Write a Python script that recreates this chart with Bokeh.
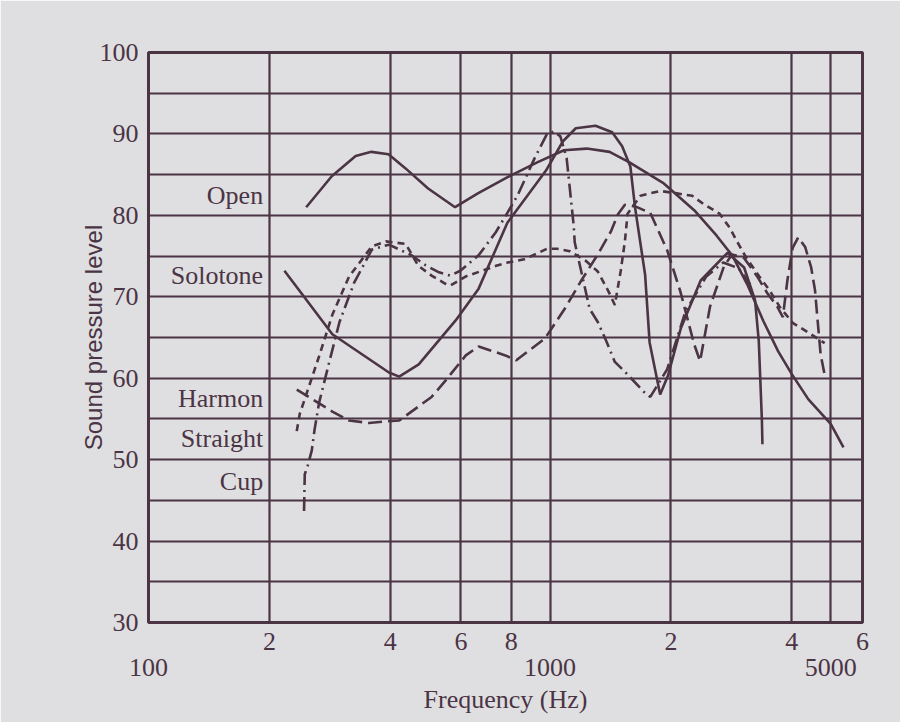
from bokeh.plotting import figure
from bokeh.models import FixedTicker, LogAxis
from bokeh.embed import file_html
from bokeh.resources import INLINE
from bokeh.core.properties import value

# Frequency response of the trumpet with different mutes (dB SPL vs Hz)
open_f = [247, 286, 328, 359, 396, 436, 497, 580, 661, 784, 929, 1083, 1234, 1407, 1577,
          1911, 2300, 2600, 2850, 3100, 3400, 3700, 4000, 4400, 5000, 5380]
open_db = [81, 84.8, 87.3, 87.8, 87.5, 85.8, 83.3, 81, 82.7, 84.7, 86.5, 88, 88.2, 87.8, 86.5,
           84, 80.5, 77.5, 75, 71.5, 67, 63.3, 60.5, 57.4, 54.4, 51.5]

solotone_f = [218, 287, 397, 421, 471, 582, 664, 783, 977, 1077, 1159, 1298, 1428, 1512, 1585,
              1629, 1725, 1770, 1880, 1966, 2116, 2372, 2766, 3043, 3240, 3310, 3370, 3380]
solotone_db = [73.2, 65.4, 60.7, 60.2, 61.7, 67.1, 71, 79.1, 85.5, 89.1, 90.7, 91, 90.2, 88.5, 86,
               80.9, 72.7, 64.4, 58, 60.3, 66.1, 72, 75.4, 73.6, 69.6, 64.6, 54.8, 51.9]

harmon_f = [234, 287, 316, 354, 391, 421, 507, 549, 617, 664, 774, 824, 972, 1090, 1193, 1315,
            1417, 1475, 1536, 1630, 1777, 1958, 2110, 2284, 2364, 2503, 2709, 2838, 3038, 3280,
            3470, 3680, 3800, 3900, 4020, 4150, 4320, 4470, 4570, 4640, 4720, 4830]
harmon_db = [58.6, 55.9, 54.8, 54.5, 54.7, 54.8, 57.7, 59.7, 62.8, 63.9, 62.8, 62.2, 64.9, 68.6,
             71.9, 75.2, 78, 80.1, 81.3, 81.1, 80.3, 75.7, 70.7, 64.2, 62.1, 68.8, 73.7, 75.2,
             74.8, 72.5, 70.5, 68.8, 67.5, 72, 76, 77.3, 76.1, 73.6, 70.8, 67, 62.9, 60.4]

straight_f = [234, 238, 266, 287, 316, 360, 390, 437, 470, 507, 549, 566, 617, 734, 784, 863,
              983, 1040, 1120, 1229, 1315, 1397, 1450, 1500, 1536, 1560, 1680, 1880, 2070, 2260,
              2410, 2644, 2800, 2914, 3080, 3320, 3520, 3740, 4020, 4400, 4830]
straight_db = [53.5, 55.6, 62.7, 67.8, 72.5, 76.2, 76.8, 76.5, 73.8, 72.6, 71.6, 71.4, 72.5,
               73.8, 74.2, 74.6, 75.9, 75.9, 75.6, 74.4, 73.1, 70.7, 69.0, 73.2, 76.8, 80.2,
               82.4, 83, 82.7, 82.4, 81.4, 80.2, 78.5, 76.9, 74.8, 72.5, 70.8, 68.7, 66.8,
               65.6, 64.3]

cup_f = [244, 245, 249, 255, 259, 266, 282, 299, 325, 360, 397, 452, 489, 529, 565, 598, 664,
         732, 785, 831, 915, 983, 1023, 1061, 1100, 1120, 1145, 1152, 1255, 1315, 1374, 1450,
         1536, 1715, 1777, 1958, 2174, 2450, 2700, 2950, 3150]
cup_db = [43.7, 48.2, 49.2, 51.1, 53.6, 57, 62, 66.9, 71.7, 75.8, 76.4, 75.1, 73.9, 73, 72.6,
          73.2, 75.1, 77.9, 80.4, 82.5, 87, 90, 90.3, 89.7, 87, 83.3, 78.8, 76.7, 68.5, 66.9,
          64.8, 62, 60.8, 58.3, 57.7, 61.1, 68.2, 72.5, 74.2, 73.5, 71.5]

curve_names = ["Open", "Solotone", "Harmon", "Straight", "Cup"]

# axis ticks and labels
y_ticks = [30, 40, 50, 60, 70, 80, 90, 100]
y_grid = [35, 40, 45, 50, 55, 60, 65, 70, 75, 80, 85, 90, 95]
x_grid = [200, 400, 600, 800, 1000, 2000, 4000, 5000]
digit_ticks = [200, 400, 600, 800, 2000, 4000, 6000]
digit_labels = ["2", "4", "6", "8", "2", "4", "6"]
decade_ticks = [100, 1000, 5000]
decade_labels = ["100", "1000", "5000"]

INK = "#4b3444"
PAPER = "#dfdfe2"
SERIF = "Liberation Serif"
SANS = "Liberation Sans"

p = figure(width=900, height=722, x_axis_type="log", x_range=(100, 6000), y_range=(30, 100),
           output_backend="svg", toolbar_location=None,
           min_border_left=148, min_border_right=38, min_border_top=52, min_border_bottom=100)
p.background_fill_color = PAPER
p.border_fill_color = PAPER
p.outline_line_color = INK
p.outline_line_width = 3

# grid
p.xgrid.ticker = FixedTicker(ticks=x_grid)
p.ygrid.ticker = FixedTicker(ticks=y_grid)
for g in (p.xgrid, p.ygrid):
    g.grid_line_color = INK
    g.grid_line_width = 2.2
    g.grid_line_alpha = 1

def style_axis(ax):
    ax.axis_line_color = None
    ax.major_tick_line_color = None
    ax.minor_tick_line_color = None
    ax.major_label_text_font = SERIF
    ax.major_label_text_font_size = "26px"
    ax.major_label_text_color = INK

# y axis
yax = p.yaxis[0]
yax.ticker = FixedTicker(ticks=y_ticks)
style_axis(yax)
yax.major_label_standoff = 4
yax.axis_label = "Sound pressure level"
yax.axis_label_text_font = SANS
yax.axis_label_text_font_size = "24px"
yax.axis_label_text_font_style = "normal"
yax.axis_label_text_color = INK
yax.axis_label_standoff = -10

# x axis, first row: digits within each decade
xax = p.xaxis[0]
xax.ticker = FixedTicker(ticks=digit_ticks)
xax.major_label_overrides = {t: s for t, s in zip(digit_ticks, digit_labels)}
style_axis(xax)
xax.major_label_standoff = 4

# x axis, second row: decade values and the axis title
xax2 = LogAxis(ticker=FixedTicker(ticks=decade_ticks),
               major_label_overrides={t: s for t, s in zip(decade_ticks, decade_labels)})
style_axis(xax2)
xax2.major_label_standoff = 0
xax2.axis_label = "Frequency (Hz)"
xax2.axis_label_text_font = SERIF
xax2.axis_label_text_font_size = "26px"
xax2.axis_label_text_font_style = "normal"
xax2.axis_label_text_color = INK
xax2.axis_label_standoff = 6
p.add_layout(xax2, "below")

# curves
lw = 2.6
p.line(open_f, open_db, line_color=INK, line_width=lw)
p.line(solotone_f, solotone_db, line_color=INK, line_width=lw)
p.line(harmon_f, harmon_db, line_color=INK, line_width=lw, line_dash="14 6")
p.line(straight_f, straight_db, line_color=INK, line_width=lw, line_dash="7 5")
p.line(cup_f, cup_db, line_color=INK, line_width=lw, line_dash="14 5 2 5")

# curve names, right-aligned just left of the 200 Hz line
label_x = [193] * 5
label_y = [82.4, 72.6, 57.5, 52.6, 47.3]
p.text(x=label_x, y=label_y, text=curve_names, text_align="right", text_baseline="middle",
       text_font=value(SERIF), text_font_size="26px", text_color=INK)

open("out.html", "w").write(file_html(p, INLINE))
